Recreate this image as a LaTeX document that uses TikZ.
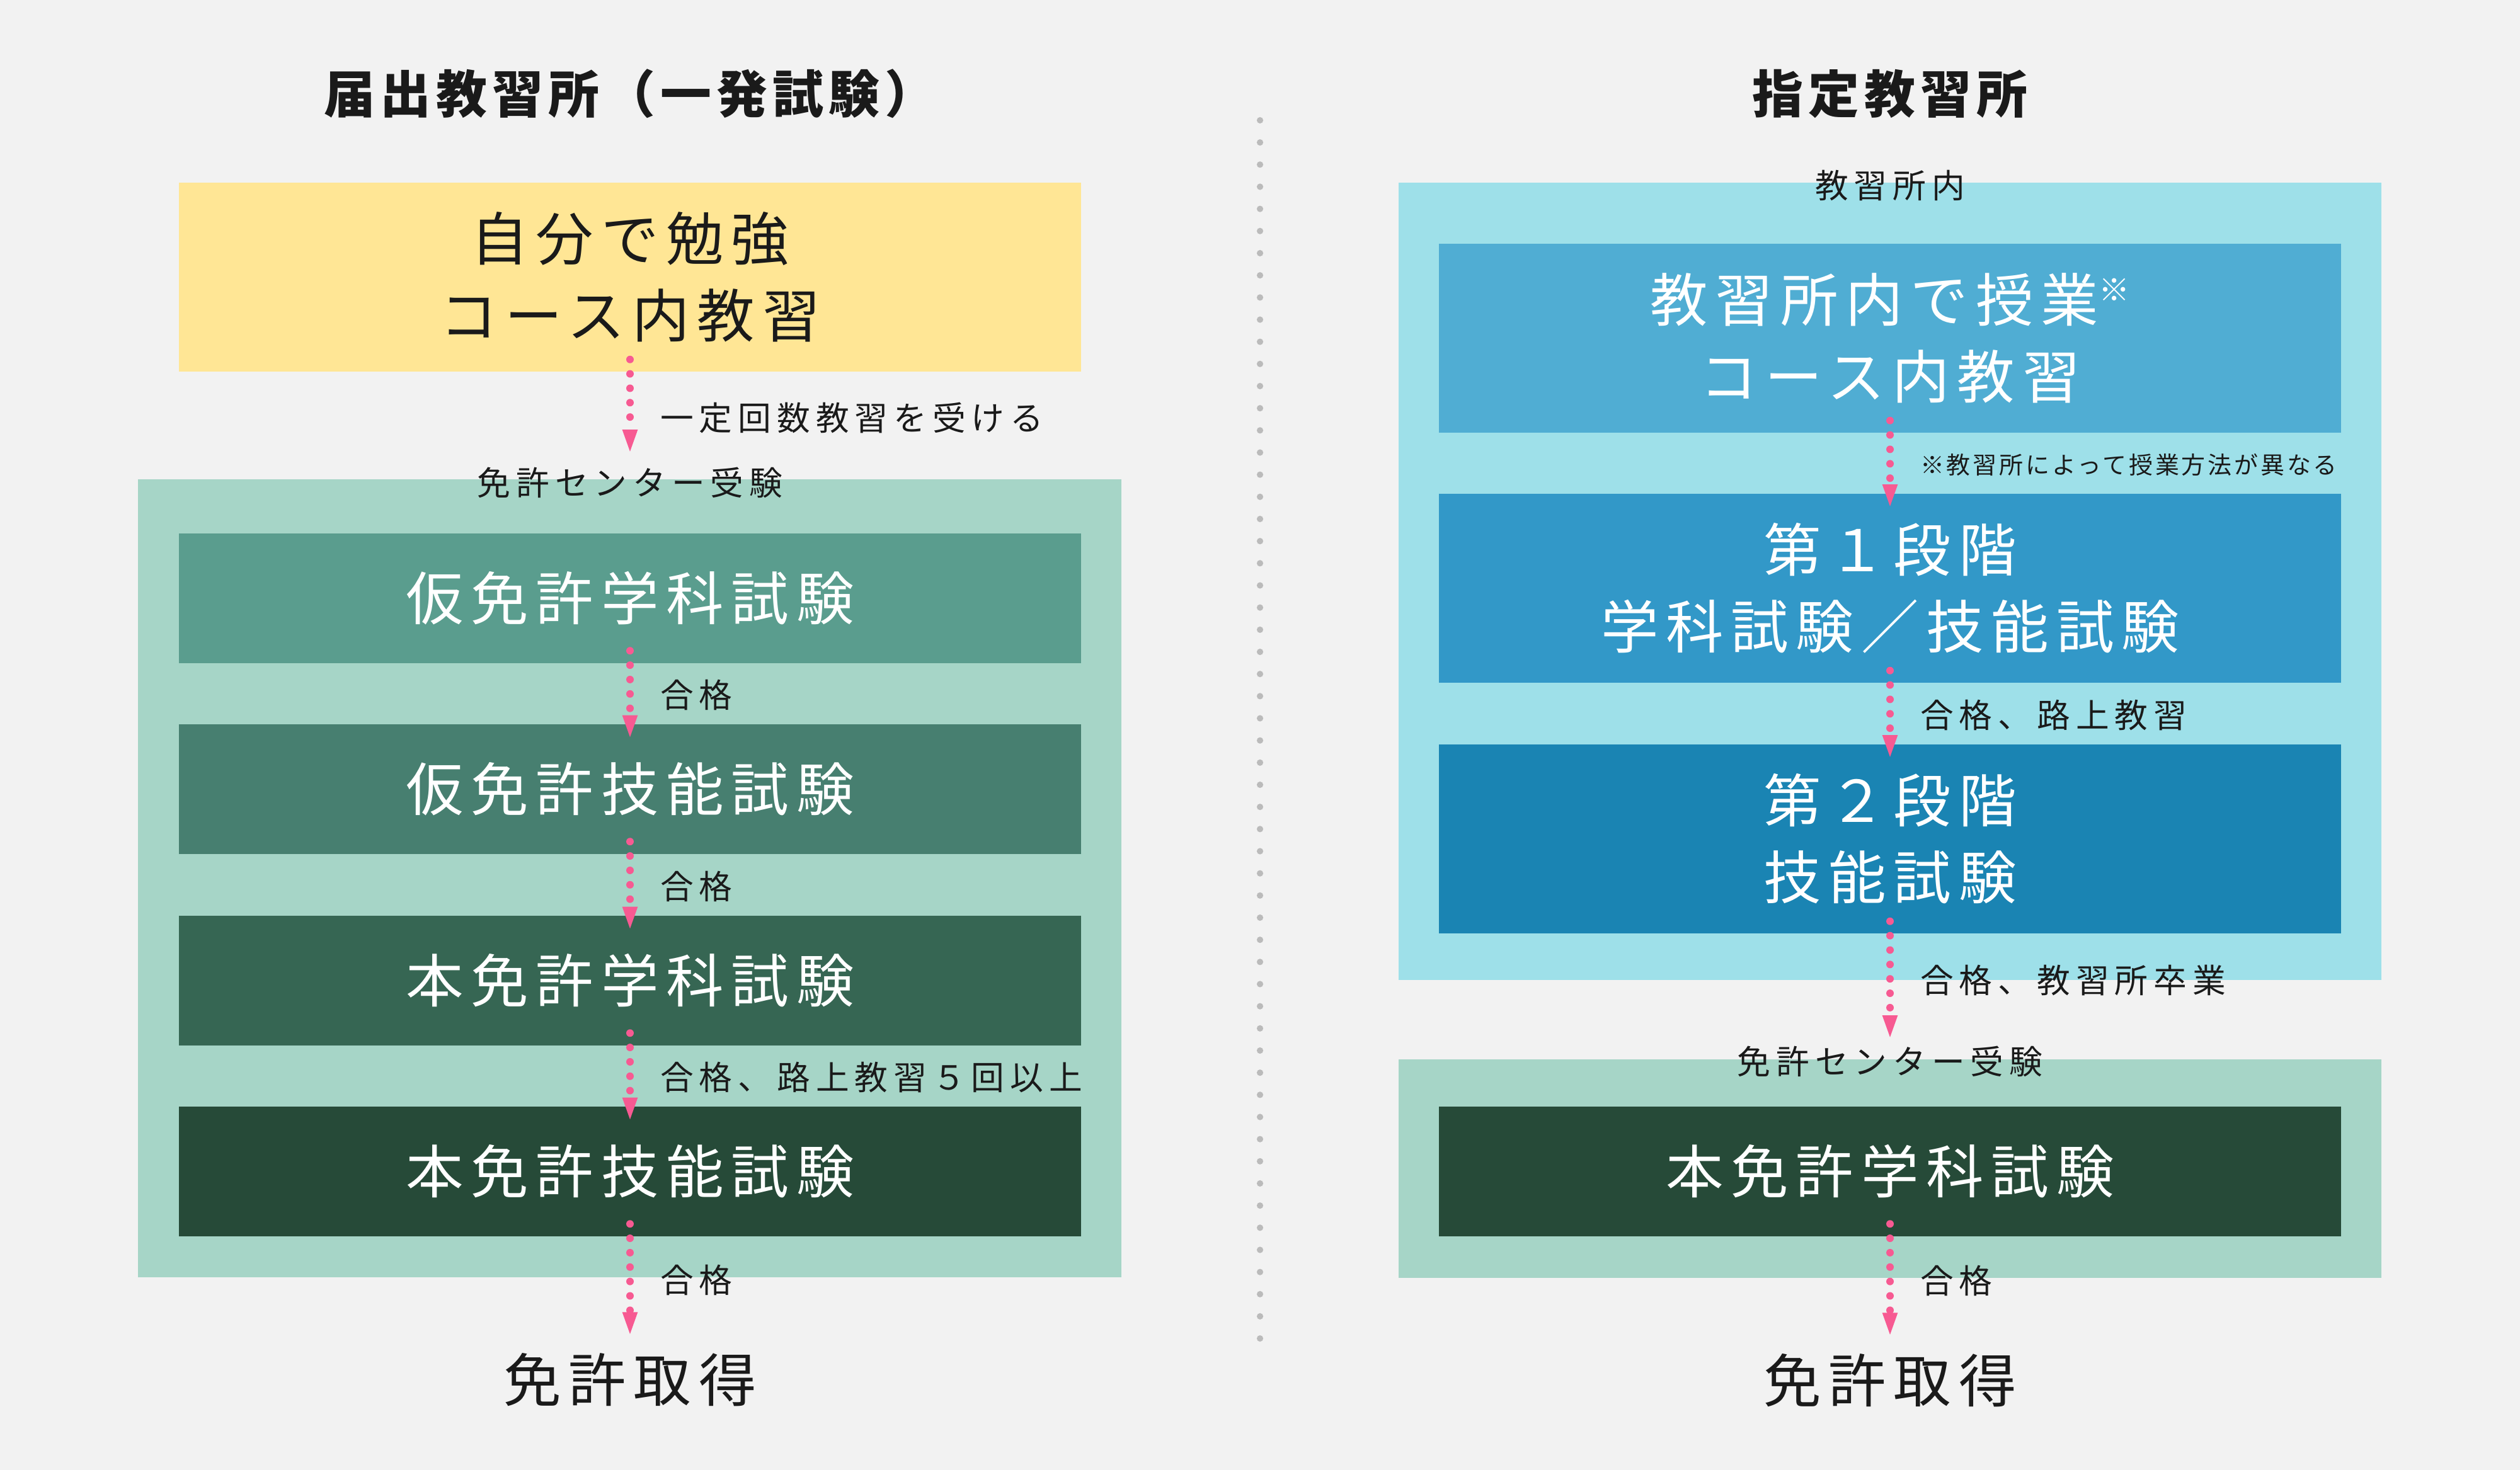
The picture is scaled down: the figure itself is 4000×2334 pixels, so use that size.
\documentclass[tikz,border=0pt]{standalone}
\usepackage{fontspec}
\usepackage{tikz}
\usetikzlibrary{arrows.meta}

\newfontfamily\jp[LetterSpace=10]{Noto Sans CJK JP}
\newfontfamily\jpbox[LetterSpace=13]{Noto Sans CJK JP}
\newfontfamily\jptag[LetterSpace=17]{Noto Sans CJK JP}

\definecolor{paper}{HTML}{F2F2F2}
\definecolor{ink}{HTML}{1A1A1A}
\definecolor{arrowpink}{HTML}{F75A92}
\definecolor{dotgray}{HTML}{BBBBBB}
\definecolor{sand}{HTML}{FFE695}
\definecolor{mint}{HTML}{A6D5C7}
\definecolor{greenA}{HTML}{5A9D8E}
\definecolor{greenB}{HTML}{477F70}
\definecolor{greenC}{HTML}{366653}
\definecolor{greenD}{HTML}{264A38}
\definecolor{sky}{HTML}{9EE0E9}
\definecolor{blueA}{HTML}{50ADD3}
\definecolor{blueB}{HTML}{3298C8}
\definecolor{blueC}{HTML}{1A84B3}

\tikzset{
    title/.style={inner sep=0pt, text=ink, font=\jp\bfseries\fontsize{23}{28}\selectfont},
    stage/.style={minimum width=14.32cm, minimum height=2.05cm, inner sep=0pt,
        text=white, align=center, font=\jpbox\fontsize{26}{34.7}\selectfont},
    tall/.style={minimum height=3cm},
    goal/.style={inner sep=0pt, text=ink, font=\jpbox\fontsize{26}{30}\selectfont},
    tag/.style={inner sep=0pt, text=ink, font=\jptag\fontsize{15}{18}\selectfont},
    side/.style={tag, anchor=west, xshift=12pt},
    flow/.style={arrowpink, line width=3.4pt, dash pattern=on 0pt off 6.5pt, line cap=round,
        -{Triangle[width=6pt,length=11pt]}},
    divider/.style={dotgray, line width=2.9pt, dash pattern=on 0pt off 10pt, line cap=round}
}

\begin{document}
\begin{tikzpicture}[x=0.01cm, y=-0.01cm]
    % Background
    \fill[paper] (0,0) rectangle (4000,2334);
    \useasboundingbox (0,0) rectangle (4000,2334);
    \draw[divider] (2000,191) -- (2000,2138);

    % Left column
    \node[title] (titleL) at (1000,149) {届出教習所（一発試験）};
    \fill[mint] (219,761) rectangle (1780,2028);
    \node[stage, tall, fill=sand, text=ink] (self) at (1000,440) {自分で勉強\\コース内教習};
    \node[tag] (centerL) at (1000,766) {免許センター受験};
    \node[stage, fill=greenA] (kariG) at (1000,950) {仮免許学科試験};
    \node[stage, fill=greenB] (kariS) at (1000,1253) {仮免許技能試験};
    \node[stage, fill=greenC] (honG) at (1000,1557) {本免許学科試験};
    \node[stage, fill=greenD] (honS) at (1000,1860) {本免許技能試験};
    \node[goal] (licL) at (1000,2191) {免許取得};

    \draw[flow] ([yshift=5.7pt]self.south) -- ([yshift=5.7pt]centerL.north)
        node[side, pos=0.62] {一定回数教習を受ける};
    \draw[flow] ([yshift=5.7pt]kariG.south) -- ([yshift=-7pt]kariS.north)
        node[side, midway] {合格};
    \draw[flow] ([yshift=5.7pt]kariS.south) -- ([yshift=-7pt]honG.north)
        node[side, midway] {合格};
    \draw[flow] ([yshift=5.7pt]honG.south) -- ([yshift=-7pt]honS.north)
        node[side, midway] {合格、路上教習５回以上};
    \draw[flow] ([yshift=5.7pt]honS.south) -- ([yshift=7.4pt]licL.north)
        node[side, midway] {合格};

    % Right column
    \node[title] (titleR) at (3000,149) {指定教習所};
    \fill[sky] (2220,290) rectangle (3780,1556);
    \fill[mint] (2220,1682) rectangle (3780,2029);
    \node[tag] (inner) at (3000,295) {教習所内};
    \node[stage, tall, fill=blueA] (lesson) at (3000,537)
        {教習所内で授業{\fontsize{14}{14}\selectfont\raisebox{9pt}{※}}\\コース内教習};
    \node[stage, tall, fill=blueB] (phase1) at (3000,934) {第１段階\\学科試験／技能試験};
    \node[stage, tall, fill=blueC] (phase2) at (3000,1332) {第２段階\\技能試験};
    \node[tag] (centerR) at (3000,1685) {免許センター受験};
    \node[stage, fill=greenD] (honGR) at (3000,1860) {本免許学科試験};
    \node[goal] (licR) at (3000,2192) {免許取得};

    \draw[flow] ([yshift=5.7pt]lesson.south) -- ([yshift=-7pt]phase1.north)
        node[side, midway, font=\jp\fontsize{10.8}{13}\selectfont] {※教習所によって授業方法が異なる};
    \draw[flow] ([yshift=5.7pt]phase1.south) -- ([yshift=-7pt]phase2.north)
        node[side, midway] {合格、路上教習};
    \draw[flow] ([yshift=5.7pt]phase2.south) -- ([yshift=2.6pt]centerR.north)
        node[side, midway] {合格、教習所卒業};
    \draw[flow] ([yshift=5.7pt]honGR.south) -- ([yshift=7.4pt]licR.north)
        node[side, midway] {合格};
\end{tikzpicture}
\end{document}
